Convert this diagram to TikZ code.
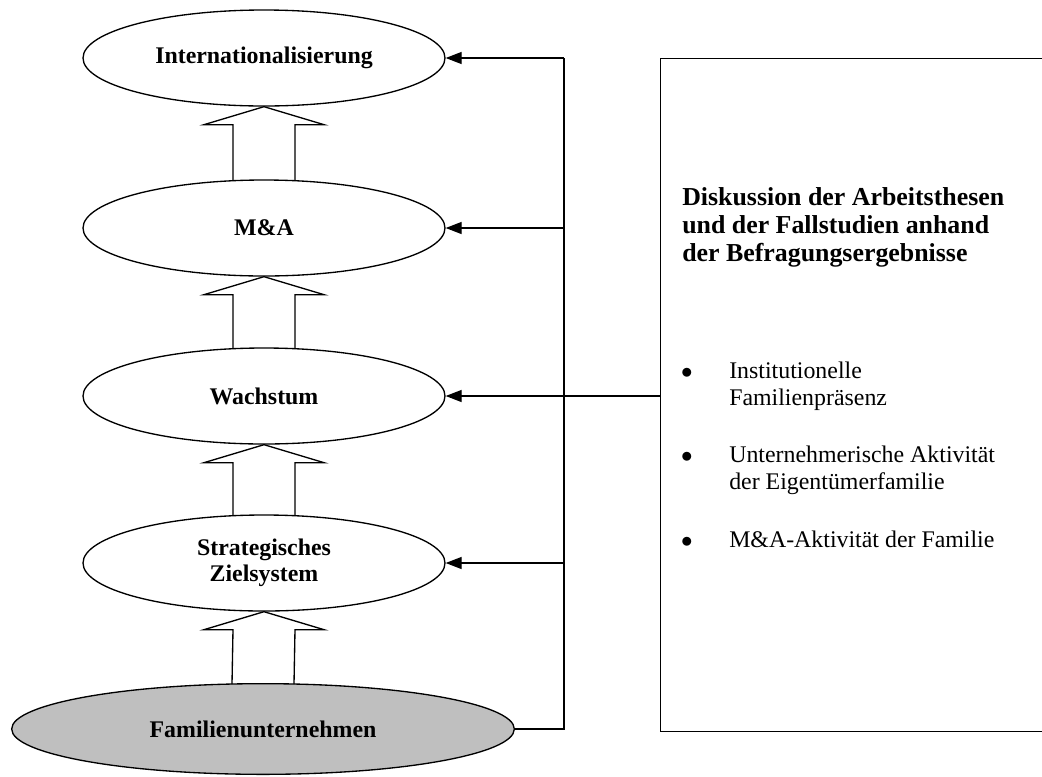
\documentclass[tikz,border=0pt]{standalone}
\usepackage{fontspec}
\setmainfont{Liberation Serif}
\usepackage{tikz}
\usetikzlibrary{calc}
\usetikzlibrary{positioning}
\usetikzlibrary{shapes.geometric}
\usetikzlibrary{arrows.meta}

\tikzset{
  stage/.style={ellipse,draw,line width=1pt,fill=white,minimum width=271.5pt,minimum height=72pt,inner sep=0pt,align=center,font=\fontsize{17.9}{19.5}\selectfont\bfseries},
  feed/.style={line width=1pt,-{Triangle[length=12pt,width=9pt]}},
  wire/.style={line width=1pt},
  uparrow/.style={line width=1pt,line join=miter},
  point/.style={anchor=north west,align=left,inner sep=0pt,font=\fontsize{17.9}{20}\selectfont}
}
\newcommand{\bul}{\llap{$\bullet$\hspace{27.5pt}}}
\newcommand{\uparr}[2]{\draw[uparrow] ($(#1.north)+(-31,1)$) -- ($(#2.south)+(-31,18)$) -- ($(#2.south)+(-60,18)$) -- (#2.south) -- ($(#2.south)+(60,18)$) -- ($(#2.south)+(31,18)$) -- ($(#1.north)+(31,1)$);}

\begin{document}
\begin{tikzpicture}[x=0.75pt,y=-0.75pt]
  \useasboundingbox (0,0) rectangle (1042,776);
  \node[stage] (intl) at (264,58) {Internationalisierung};
  \node[stage] (ma) at (264,228) {M\&A};
  \node[stage] (wachs) at (264,396) {Wachstum};
  \node[stage] (ziel) at (264,563) {Strategisches\\Zielsystem};
  \node[stage,fill=black!25,minimum width=377pt,minimum height=68pt] (fam) at (263,729) {Familienunternehmen};
  \uparr{ma}{intl}
  \uparr{wachs}{ma}
  \uparr{ziel}{wachs}
  \uparr{fam}{ziel}
  \node[draw,line width=1pt,minimum width=292.5pt,minimum height=504.75pt,inner sep=0pt,anchor=north west] (disk) at (660,58) {};
  \coordinate (jt) at (564,58);
  \draw[wire] (fam.east) -- (fam.east -| jt) -- (jt);
  \draw[feed] (jt) -- (intl.east);
  \draw[feed] (ma.east -| jt) -- (ma.east);
  \draw[feed] (wachs.east -| disk.west) -- (wachs.east);
  \draw[feed] (ziel.east -| jt) -- (ziel.east);
  \node[point,font=\fontsize{19.4}{21}\selectfont\bfseries] (head) at (682,187) {Diskussion der Arbeitsthesen\\und der Fallstudien anhand\\der Befragungsergebnisse};
  \node[point] (p1) at (729,362) {\bul Institutionelle\\Familienpräsenz};
  \node[point] (p2) at (729,446) {\bul Unternehmerische Aktivität\\der Eigentümerfamilie};
  \node[point] (p3) at (729,531) {\bul M\&A-Aktivität der Familie};
\end{tikzpicture}
\end{document}
